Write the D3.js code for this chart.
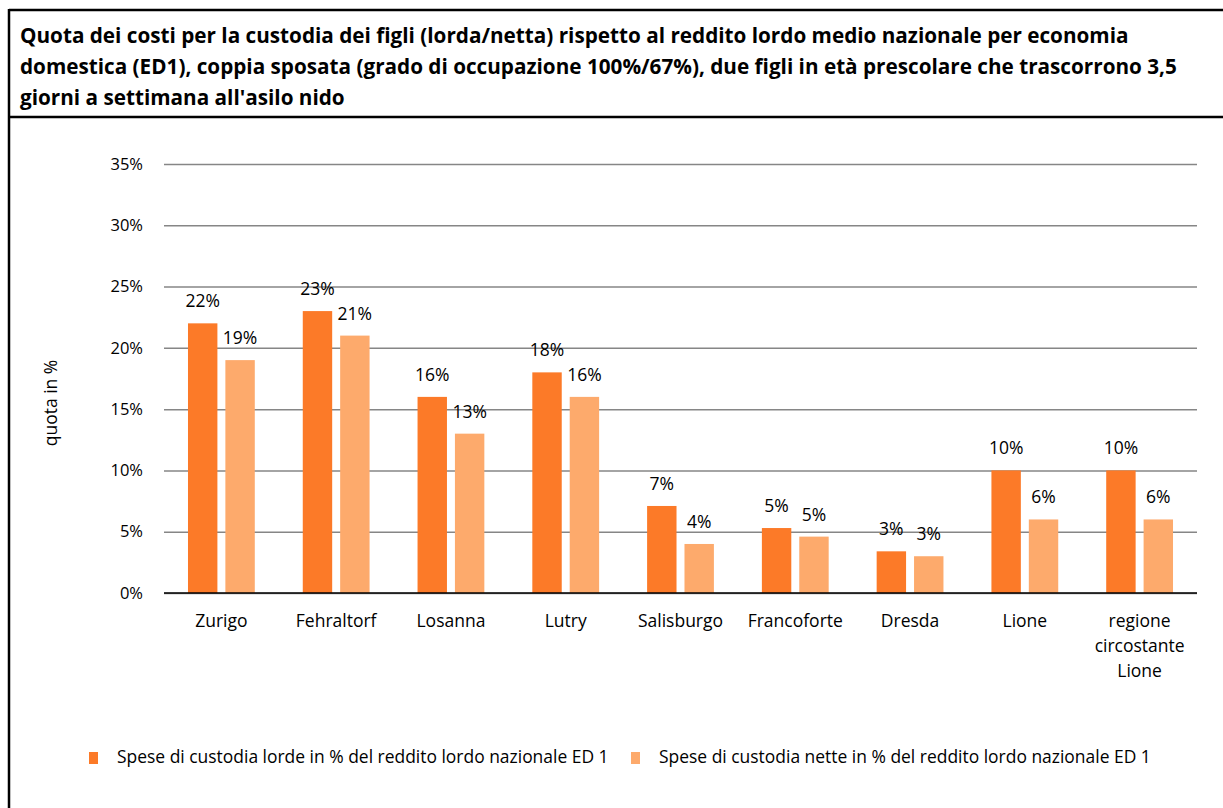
<!DOCTYPE html>
<html>
<head>
<meta charset="utf-8">
<script src="https://cdn.jsdelivr.net/npm/d3@7"></script>
<style>
  body { margin: 0; background: #fff; }
  svg { display: block; font-family: "Open Sans", "Noto Sans", sans-serif; }
</style>
</head>
<body>
<svg id="chart" width="1223" height="808"></svg>
<script>
const titleLines = [
    "Quota dei costi per la custodia dei figli (lorda/netta) rispetto al reddito lordo medio nazionale per economia",
    "domestica (ED1), coppia sposata (grado di occupazione 100%/67%), due figli in età prescolare che trascorrono 3,5",
    "giorni a settimana all'asilo nido"
];
const cities = ["Zurigo", "Fehraltorf", "Losanna", "Lutry", "Salisburgo", "Francoforte", "Dresda", "Lione", "regione circostante Lione"];
const cityLines = [["Zurigo"], ["Fehraltorf"], ["Losanna"], ["Lutry"], ["Salisburgo"], ["Francoforte"], ["Dresda"], ["Lione"], ["regione", "circostante", "Lione"]];
const gross = [22, 23, 16, 18, 7.1, 5.3, 3.4, 10, 10];
const net = [19, 21, 13, 16, 4, 4.6, 3.0, 6, 6];
const seriesNames = [
    "Spese di custodia lorde in % del reddito lordo nazionale ED 1",
    "Spese di custodia nette in % del reddito lordo nazionale ED 1"
];
const yTicks = [0, 5, 10, 15, 20, 25, 30, 35];
const colors = ["#fc7a28", "#fdaa6c"];

const svg = d3.select("#chart");

// frame lines
svg.append("line").attr("x1", 9).attr("x2", 1223).attr("y1", 10).attr("y2", 10)
    .attr("stroke", "#000").attr("stroke-width", 2.5);
svg.append("line").attr("x1", 9).attr("x2", 1223).attr("y1", 117).attr("y2", 117)
    .attr("stroke", "#000").attr("stroke-width", 2.5);
svg.append("line").attr("x1", 9).attr("x2", 9).attr("y1", 9).attr("y2", 808)
    .attr("stroke", "#000").attr("stroke-width", 2.5);

// fit a text element to a target width by adjusting font size
function fitWidth(sel, target) {
    const node = sel.node();
    const fs = parseFloat(sel.attr("font-size"));
    const w = node.getComputedTextLength();
    sel.attr("font-size", (fs * target / w).toFixed(2));
}

// title
const title = svg.append("g");
titleLines.forEach((t, i) => {
    title.append("text")
        .attr("x", 20).attr("y", 43 + i * 31)
        .attr("font-size", 17).attr("font-weight", "bold").attr("fill", "#000")
        .text(t);
});
const tl = title.select("text:nth-child(2)");
fitWidth(tl, 1157);
title.selectAll("text").attr("font-size", tl.attr("font-size"));

// plot
const plotLeft = 164, plotRight = 1197, plotTop = 164, plotBottom = 593;
const y = d3.scaleLinear().domain([0, 35]).range([plotBottom, plotTop]);
const x0 = d3.scaleBand().domain(cities).range([plotLeft, plotRight]).paddingInner(0.418).paddingOuter(0.209);
const x1 = d3.scaleBand().domain([0, 1]).range([0, x0.bandwidth()]).paddingInner(0.2133);

const yAxis = svg.append("g")
    .attr("transform", `translate(${plotLeft},0)`)
    .call(d3.axisLeft(y).tickValues(yTicks).tickSize(-(plotRight - plotLeft)).tickFormat(d => d + "%"));
yAxis.select(".domain").remove();
yAxis.selectAll(".tick line").attr("stroke", "#868686").attr("stroke-width", 1.5);
yAxis.selectAll(".tick text").attr("x", -21).attr("font-size", 16.5)
    .attr("font-family", "'Open Sans', sans-serif").attr("fill", "#000");

// bars
const groups = svg.append("g").selectAll("g")
    .data(cities.map((c, i) => ({ city: c, vals: [gross[i], net[i]] })))
    .join("g")
    .attr("transform", d => `translate(${x0(d.city)},0)`);

groups.selectAll("rect")
    .data(d => d.vals.map((v, k) => ({ v, k })))
    .join("rect")
    .attr("x", d => x1(d.k))
    .attr("y", d => y(d.v))
    .attr("width", x1.bandwidth())
    .attr("height", d => y(0) - y(d.v))
    .attr("fill", d => colors[d.k]);

groups.selectAll("text.lbl")
    .data(d => d.vals.map((v, k) => ({ v, k })))
    .join("text")
    .attr("class", "lbl")
    .attr("x", d => x1(d.k) + x1.bandwidth() / 2)
    .attr("y", d => y(d.v) - 16)
    .attr("text-anchor", "middle")
    .attr("font-size", 17.5)
    .attr("fill", "#000")
    .text(d => Math.round(d.v) + "%");

// zero line
svg.append("line").attr("x1", plotLeft).attr("x2", plotRight).attr("y1", y(0)).attr("y2", y(0))
    .attr("stroke", "#000").attr("stroke-width", 1.5);

// category labels
cities.forEach((c, i) => {
    const t = svg.append("text")
        .attr("text-anchor", "middle")
        .attr("font-size", 17.5)
        .attr("fill", "#000");
    cityLines[i].forEach((line, j) => {
        t.append("tspan").attr("x", x0(c) + x0.bandwidth() / 2).attr("y", 627 + j * 25).text(line);
    });
});

// y axis title
svg.append("text")
    .attr("transform", "translate(57,403) rotate(-90)")
    .attr("text-anchor", "middle")
    .attr("font-size", 17.5)
    .attr("fill", "#000")
    .text("quota in %");

// legend
const legendX = [89, 631];
const legendW = [492, 492];
seriesNames.forEach((s, i) => {
    svg.append("rect")
        .attr("x", legendX[i]).attr("y", 752)
        .attr("width", 9).attr("height", 12)
        .attr("fill", colors[i]);
    const t = svg.append("text")
        .attr("x", legendX[i] + 28).attr("y", 763)
        .attr("font-size", 15)
        .attr("fill", "#000")
        .text(s);
    fitWidth(t, legendW[i]);
});
</script>
</body>
</html>
